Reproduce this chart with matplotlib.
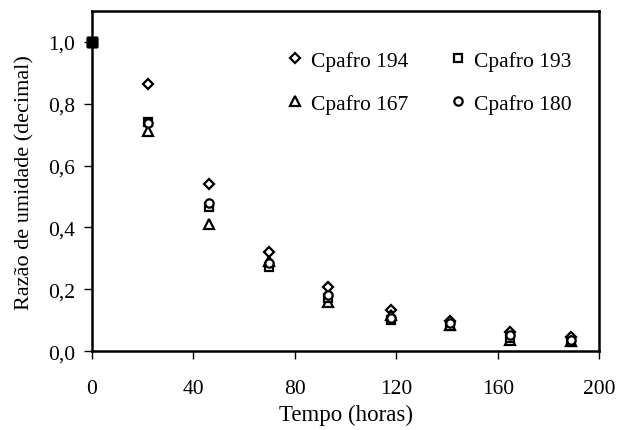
import numpy as np
import matplotlib.pyplot as plt
from matplotlib.ticker import FuncFormatter

# tempo (horas) e razao de umidade de cada amostra
tempo = [0, 22, 46, 70, 93, 118, 141, 165, 189]
cpafro_194 = [1.0, 0.865, 0.54, 0.322, 0.208, 0.132, 0.096, 0.063, 0.045]
cpafro_193 = [1.0, 0.74, 0.465, 0.272, 0.172, 0.102, 0.082, 0.042, 0.030]
cpafro_167 = [1.0, 0.712, 0.41, 0.29, 0.160, 0.118, 0.086, 0.035, 0.034]
cpafro_180 = [1.0, 0.738, 0.48, 0.286, 0.180, 0.108, 0.090, 0.052, 0.036]

plt.rcParams['font.family'] = ['Liberation Serif', 'DejaVu Serif']

fig = plt.figure(figsize=(6.21, 4.31), dpi=100)
ax = fig.add_axes([0.148, 0.183, 0.817, 0.789])

series = [
    ('Cpafro 194', cpafro_194, 'D', 5.0),
    ('Cpafro 167', cpafro_167, '^', 6.5),
    ('Cpafro 193', cpafro_193, 's', 6.0),
    ('Cpafro 180', cpafro_180, 'o', 6.0),
]
for label, vals, mk, ms in series:
    ax.plot(tempo[1:], vals[1:], linestyle='none', marker=mk, markersize=ms,
            markerfacecolor='white', markeredgecolor='black', markeredgewidth=1.6,
            label=label, clip_on=False)
    # primeiro ponto (t = 0) aparece cheio
    ax.plot(tempo[:1], vals[:1], linestyle='none', marker='s', markersize=7.5,
            color='black', clip_on=False, zorder=5)

ax.set_xlim(0, 200)
ax.set_ylim(0, 1.1)
ax.set_xticks([0, 40, 80, 120, 160, 200])
ax.set_yticks([0, 0.2, 0.4, 0.6, 0.8, 1.0])
ax.yaxis.set_major_formatter(FuncFormatter(lambda v, p: f'{v:.1f}'.replace('.', ',')))

ax.tick_params(axis='x', direction='out', length=6, width=1, pad=14, labelsize=15.5)
ax.tick_params(axis='y', direction='out', length=6, width=1, pad=6, labelsize=15.5)
for s in ax.spines.values():
    s.set_linewidth(1.8)

ax.set_xlabel('Tempo (horas)', fontsize=16.5, labelpad=4)
ax.set_ylabel('Razão de umidade (decimal)', fontsize=16, labelpad=10)

ax.legend(ncol=2, loc='upper right', frameon=False, fontsize=15.5,
          handlelength=1.0, handletextpad=0.25, columnspacing=1.8, labelspacing=1.05,
          borderaxespad=0.0, bbox_to_anchor=(0.962, 0.908))

fig.savefig('out.png', dpi=100)
